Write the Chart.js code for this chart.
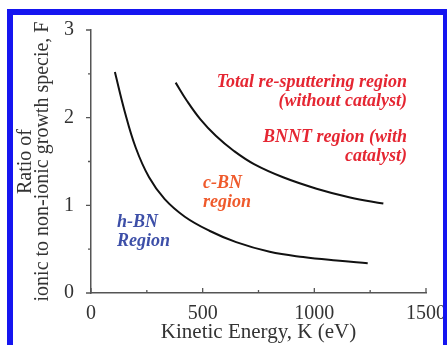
<!DOCTYPE html>
<html>
<head>
<meta charset="utf-8">
<script src="https://cdn.jsdelivr.net/npm/chart.js@4"></script>
<style>
  html, body { margin: 0; padding: 0; background: #fff; }
  #wrap { position: relative; width: 447px; height: 345px; overflow: hidden; }
  #frame {
    position: absolute; left: 7px; top: 9px; width: 442px; height: 400px;
    box-sizing: border-box; border: 6px solid #1515f0; border-bottom: none;
    pointer-events: none; z-index: 2;
  }
  canvas { position: absolute; left: 0; top: 0; }
</style>
</head>
<body>
<div id="wrap">
  <canvas id="myChart" width="447" height="345"></canvas>
  <div id="frame"></div>
</div>
<script>
// h-BN / c-BN boundary
const energyLow = [107, 150, 200, 260, 330, 420, 530, 650, 800, 950, 1100, 1239];
const ratioLow = [2.52, 2.08, 1.66, 1.32, 1.07, 0.87, 0.71, 0.58, 0.47, 0.41, 0.37, 0.34];
// c-BN / re-sputtering boundary
const energyHigh = [379, 430, 490, 560, 640, 730, 860, 1010, 1160, 1309];
const ratioHigh = [2.40, 2.19, 1.98, 1.79, 1.62, 1.47, 1.32, 1.19, 1.09, 1.02];

const xMajor = [0, 500, 1000, 1500];
const xMinor = [250, 750, 1250];
const yMajor = [0, 1, 2, 3];
const yMinor = [0.5, 1.5, 2.5];

const sputterText = ['Total re-sputtering region', '(without catalyst)'];
const bnntText = ['BNNT region (with', 'catalyst)'];
const cbnText = ['c-BN', 'region'];
const hbnText = ['h-BN', 'Region'];

function toPoints(xs, ys) {
    let pts = [];
    for (let i = 0; i < xs.length; i++) {
        pts.push({ x: xs[i], y: ys[i] });
    }
    return pts;
}

const serif = '"Liberation Serif", "Times New Roman", serif';

// ticks: x inward, y outward
const tickPlugin = {
    id: 'ticks',
    afterDraw(chart) {
        const ctx = chart.ctx;
        const xs = chart.scales.x, ys = chart.scales.y;
        const x0 = xs.getPixelForValue(0), y0 = ys.getPixelForValue(0);
        ctx.save();
        ctx.strokeStyle = '#555';
        ctx.lineWidth = 1.3;
        ctx.beginPath();
        xMajor.forEach(v => { let p = xs.getPixelForValue(v); ctx.moveTo(p, y0); ctx.lineTo(p, y0 - 5); });
        xMinor.forEach(v => { let p = xs.getPixelForValue(v); ctx.moveTo(p, y0); ctx.lineTo(p, y0 - 3); });
        yMajor.forEach(v => { let p = ys.getPixelForValue(v); ctx.moveTo(x0, p); ctx.lineTo(x0 - 5, p); });
        yMinor.forEach(v => { let p = ys.getPixelForValue(v); ctx.moveTo(x0, p); ctx.lineTo(x0 - 3, p); });
        ctx.stroke();
        ctx.restore();
    }
};

const regionPlugin = {
    id: 'regions',
    afterDatasetsDraw(chart) {
        const ctx = chart.ctx;
        const xs = chart.scales.x, ys = chart.scales.y;
        function put(lines, k, f, align, color) {
            ctx.fillStyle = color;
            ctx.textAlign = align;
            for (let i = 0; i < lines.length; i++) {
                ctx.fillText(lines[i], xs.getPixelForValue(k), ys.getPixelForValue(f) + i * 19);
            }
        }
        ctx.save();
        ctx.font = 'italic bold 18px ' + serif;
        ctx.textBaseline = 'middle';
        put(sputterText, 1415, 2.40, 'right', '#e52632');
        put(bnntText, 1415, 1.78, 'right', '#e52632');
        put(cbnText, 502, 1.25, 'left', '#ef5a2c');
        put(hbnText, 116, 0.81, 'left', '#3d4fa8');
        ctx.restore();
    }
};

const config = {
    type: 'scatter',
    data: {
        datasets: [{
            data: toPoints(energyLow, ratioLow),
            showLine: true,
            borderColor: '#111',
            borderWidth: 2,
            pointRadius: 0,
            tension: 0.4
        }, {
            data: toPoints(energyHigh, ratioHigh),
            showLine: true,
            borderColor: '#111',
            borderWidth: 2,
            pointRadius: 0,
            tension: 0.4
        }]
    },
    options: {
        responsive: false,
        animation: false,
        layout: { padding: { left: 0, top: 30, right: 21, bottom: 0 } },
        plugins: { legend: { display: false }, tooltip: { enabled: false } },
        scales: {
            x: {
                type: 'linear',
                min: 0, max: 1500,
                afterFit(scale) { scale.height = 52; },
                border: { display: true, color: '#555', width: 1.5 },
                grid: { display: false },
                ticks: {
                    stepSize: 500, padding: 1, color: '#333', maxRotation: 0,
                    font: { family: serif, size: 20 },
                    callback: function (value) { return String(value); }
                },
                title: {
                    display: true, text: 'Kinetic Energy, K (eV)', color: '#333',
                    padding: 0, font: { family: serif, size: 21 }
                }
            },
            y: {
                min: 0, max: 3,
                afterFit(scale) { scale.width = 91; },
                border: { display: true, color: '#555', width: 1.5 },
                grid: { display: false },
                ticks: {
                    stepSize: 1, padding: 9, color: '#333',
                    font: { family: serif, size: 20 },
                    callback: function (value) { return String(value); }
                },
                title: {
                    display: true,
                    text: ['Ratio of', 'ionic to non-ionic growth specie, F'],
                    color: '#333',
                    padding: { top: 17, bottom: 0 },
                    font: { family: serif, size: 20, lineHeight: 0.85 }
                }
            }
        }
    },
    plugins: [tickPlugin, regionPlugin]
};

var myChart = new Chart(document.getElementById('myChart'), config);
</script>
</body>
</html>
